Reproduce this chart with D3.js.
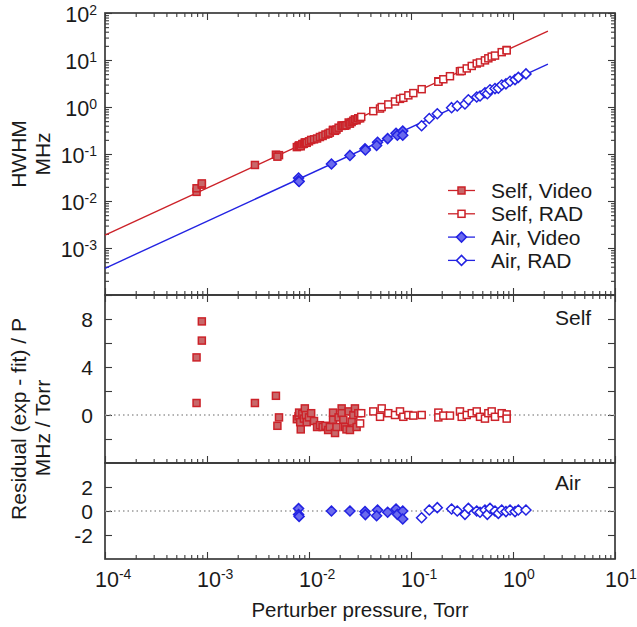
<!DOCTYPE html>
<html>
<head>
<meta charset="utf-8">
<script src="https://cdn.jsdelivr.net/npm/d3@7"></script>
<style>
  body { margin: 0; background: #fff; }
  text { font-family: "Liberation Sans", Arial, sans-serif; fill: #1a1a1a; }
</style>
</head>
<body>
<div id="chart"></div>
<script>
const width = 637;
const height = 627;

// pressure (Torr) and residual (MHz/Torr)
const selfVideoP = [7.9e-4, 7.9e-4, 8.9e-4, 8.9e-4, 2.95e-3, 4.74e-3, 5.08e-3, 4.9e-3,
    7.6e-3, 7.9e-3, 8.0e-3, 8.2e-3, 8.3e-3, 8.6e-3, 8.9e-3, 9.1e-3, 9.3e-3, 9.5e-3,
    1.0e-2, 1.05e-2, 1.12e-2, 1.2e-2, 1.28e-2, 1.36e-2, 1.45e-2, 1.54e-2, 1.6e-2,
    1.72e-2, 1.72e-2, 1.8e-2, 1.86e-2, 1.95e-2, 2.09e-2, 2.09e-2, 2.17e-2, 2.25e-2,
    2.33e-2, 2.45e-2, 2.52e-2, 2.62e-2, 2.72e-2, 2.82e-2, 2.93e-2, 3.04e-2];
const selfVideoR = [1.0, 4.8, 6.2, 7.8, 1.0, 1.6, -0.2, -0.9,
    -0.35, -0.1, 0.2, -0.6, -1.2, 0.1, -0.3, 0.55, 0.0, -0.6,
    -0.2, 0.15, -0.5, -1.0, -0.85, -1.0, -0.9, -1.25, -1.0,
    0.2, -0.4, -1.5, -1.0, -0.2, 0.55, 0.15, -0.4, -1.0,
    -1.2, 0.3, -1.25, -0.55, 0.0, 0.55, -1.0, 0.15];

const selfRadP = [0.0317, 0.0325, 0.0427, 0.0497, 0.0516, 0.0599, 0.0697, 0.078, 0.0841,
    0.0942, 0.1054, 0.1273, 0.1854, 0.1854, 0.2075, 0.241, 0.302, 0.314, 0.352, 0.394,
    0.441, 0.475, 0.531, 0.573, 0.618, 0.666, 0.775, 0.867, 0.867];
const selfRadR = [-0.7, 0.15, 0.3, -0.15, 0.55, 0.15, 0.0, 0.3, -0.15,
    0.0, -0.05, 0.0, 0.2, -0.2, -0.05, -0.05, 0.3, -0.15, 0.0, 0.15,
    0.3, -0.15, -0.3, 0.15, 0.3, -0.15, 0.15, 0.05, -0.3];

const airVideoP = [0.0079, 0.0079, 0.0080, 0.0166, 0.0252, 0.0354, 0.0357, 0.047, 0.046,
    0.059, 0.0713, 0.0735, 0.083, 0.083];
const airVideoR = [0.2, -0.3, -0.45, 0.0, 0.0, -0.05, -0.3, 0.08, -0.4,
    -0.1, 0.17, -0.28, 0.0, -0.67];

const airRadP = [0.127, 0.151, 0.181, 0.25, 0.284, 0.338, 0.365, 0.441, 0.475, 0.531,
    0.56, 0.595, 0.666, 0.718, 0.775, 0.853, 0.935, 1.047, 1.128, 1.34];
const airRadR = [-0.56, 0.08, 0.28, 0.17, 0.0, -0.28, 0.22, 0.0, -0.1, 0.08,
    -0.28, 0.22, 0.0, -0.2, 0.08, -0.05, 0.08, -0.05, 0.08, 0.08];

// linear fit coefficients (MHz/Torr) and the fitted range
const gammaSelf = 18.8;
const gammaAir = 3.7;
const fitRange = [1e-4, 2.2];

const legendLabels = ["Self, Video", "Self, RAD", "Air, Video", "Air, RAD"];

const red = "#cc2229", redFill = "#c8686a";
const blue = "#2323e2", blueFill = "#6a6aee";
const axisColor = "#3a3a3a";

const svg = d3.select("#chart").append("svg")
    .attr("width", width)
    .attr("height", height);

const x = d3.scaleLog().domain([1e-4, 10]).range([105, 615]);
const yTop = d3.scaleLog().domain([1e-4, 1e2]).range([295, 13]);
const ySelf = d3.scaleLinear().domain([-4, 10]).range([463, 295]);
const yAir = d3.scaleLinear().domain([-4, 4]).range([559, 463]);

const xMajor = d3.range(-4, 2).map(e => Math.pow(10, e));
const xMinor = d3.range(-4, 1).flatMap(e => d3.range(2, 10).map(k => k * Math.pow(10, e)));
const yMajor = d3.range(-4, 3).map(e => Math.pow(10, e));
const yMinor = d3.range(-4, 2).flatMap(e => d3.range(2, 10).map(k => k * Math.pow(10, e)));

function tickAxis(axisFn, scale, values, size, translate) {
    const g = svg.append("g")
        .attr("transform", translate)
        .call(axisFn(scale).tickValues(values).tickSize(size).tickFormat(""));
    g.select(".domain").remove();
    g.selectAll(".tick line").attr("stroke", axisColor).attr("stroke-width", 1.1);
    return g;
}

// x ticks on panel edges (inward)
[[d3.axisBottom, 13], [d3.axisTop, 295], [d3.axisBottom, 295], [d3.axisTop, 463], [d3.axisTop, 559]]
    .forEach(([fn, yy]) => {
        tickAxis(fn, x, xMajor, 7, `translate(0,${yy})`);
        tickAxis(fn, x, xMinor, 4, `translate(0,${yy})`);
    });

// top panel y ticks
tickAxis(d3.axisRight, yTop, yMajor, 7, "translate(105,0)");
tickAxis(d3.axisRight, yTop, yMinor, 4, "translate(105,0)");
tickAxis(d3.axisLeft, yTop, yMajor, 7, "translate(615,0)");
tickAxis(d3.axisLeft, yTop, yMinor, 4, "translate(615,0)");

// residual y ticks
tickAxis(d3.axisRight, ySelf, [-2, 0, 2, 4, 6, 8], 7, "translate(105,0)");
tickAxis(d3.axisLeft, ySelf, [-2, 0, 2, 4, 6, 8], 7, "translate(615,0)");
tickAxis(d3.axisRight, yAir, [-2, 0, 2], 7, "translate(105,0)");
tickAxis(d3.axisLeft, yAir, [-2, 0, 2], 7, "translate(615,0)");

// frames
[[yTop.range()[1], yTop.range()[0]], [295, 463], [463, 559]].forEach(([t, b]) => {
    svg.append("rect")
        .attr("x", 105).attr("y", t)
        .attr("width", 510).attr("height", b - t)
        .attr("fill", "none")
        .attr("stroke", axisColor)
        .attr("stroke-width", 1.7);
});

// tick labels
xMajor.forEach(v => {
    const t = svg.append("text")
        .attr("x", x(v) - 10)
        .attr("y", 587)
        .attr("font-size", 21.5)
        .text("10");
    t.append("tspan").attr("dy", -8).attr("font-size", 14).text(Math.round(Math.log10(v)));
});
yMajor.slice(1).forEach(v => {
    const t = svg.append("text")
        .attr("x", 97)
        .attr("y", yTop(v) + 9)
        .attr("text-anchor", "end")
        .attr("font-size", 21.5)
        .text("10");
    t.append("tspan").attr("dy", -7).attr("font-size", 14).text(Math.round(Math.log10(v)));
});
[0, 4, 8].forEach(v => {
    svg.append("text").attr("x", 93).attr("y", ySelf(v) + 7.5)
        .attr("text-anchor", "end").attr("font-size", 21).text(v);
});
[-2, 0, 2].forEach(v => {
    svg.append("text").attr("x", 93).attr("y", yAir(v) + 7.5)
        .attr("text-anchor", "end").attr("font-size", 21).text(v);
});

// axis titles
svg.append("text")
    .attr("x", 360).attr("y", 617)
    .attr("text-anchor", "middle")
    .attr("font-size", 20.5)
    .text("Perturber pressure, Torr");

function yTitle(lines, cy, xs) {
    lines.forEach((s, i) => {
        svg.append("text")
            .attr("transform", `translate(${xs[i]},${cy[i]}) rotate(-90)`)
            .attr("text-anchor", "middle")
            .attr("font-size", 21)
            .text(s);
    });
}
yTitle(["HWHM", "MHz"], [154, 154], [26, 50]);
yTitle(["Residual (exp - fit) / P", "MHz / Torr"], [419, 428], [26, 50]);

svg.append("text").attr("x", 555).attr("y", 325).attr("font-size", 21).text("Self");
svg.append("text").attr("x", 555).attr("y", 490).attr("font-size", 21).text("Air");

// zero lines
[ySelf, yAir].forEach(s => {
    svg.append("line")
        .attr("x1", 105).attr("x2", 615)
        .attr("y1", s(0)).attr("y2", s(0))
        .attr("stroke", "#9a9a9a")
        .attr("stroke-width", 1.3)
        .attr("stroke-dasharray", "1.5,3");
});

// fit lines
const line = d3.line().x(d => x(d[0])).y(d => yTop(d[1]));
[[gammaSelf, red], [gammaAir, blue]].forEach(([g, c]) => {
    svg.append("path")
        .datum(fitRange.map(p => [p, g * p]))
        .attr("d", line)
        .attr("fill", "none")
        .attr("stroke", c)
        .attr("stroke-width", 1.4);
});

const diamond = "M0,-5L5,0L0,5L-5,0Z";

function drawMarkers(g, pts, shape, stroke, fill) {
    const sel = g.selectAll(null).data(pts).enter();
    if (shape === "square") {
        sel.append("rect")
            .attr("x", d => d[0] - 3.5).attr("y", d => d[1] - 3.5)
            .attr("width", 7).attr("height", 7)
            .attr("fill", fill).attr("stroke", stroke).attr("stroke-width", 1.5);
    } else {
        sel.append("path")
            .attr("transform", d => `translate(${d[0]},${d[1]})`)
            .attr("d", diamond)
            .attr("fill", fill).attr("stroke", stroke).attr("stroke-width", 1.5);
    }
}

const series = [
    { P: selfVideoP, R: selfVideoR, gamma: gammaSelf, ry: ySelf, shape: "square", stroke: red, fill: redFill },
    { P: selfRadP, R: selfRadR, gamma: gammaSelf, ry: ySelf, shape: "square", stroke: red, fill: "#fff" },
    { P: airVideoP, R: airVideoR, gamma: gammaAir, ry: yAir, shape: "diamond", stroke: blue, fill: blueFill },
    { P: airRadP, R: airRadR, gamma: gammaAir, ry: yAir, shape: "diamond", stroke: blue, fill: "#fff" }
];

const marks = svg.append("g");
series.forEach(s => {
    // HWHM = fit + residual * P
    const top = s.P.map((p, i) => [x(p), yTop(p * (s.gamma + s.R[i]))]);
    const res = s.P.map((p, i) => [x(p), s.ry(s.R[i])]);
    drawMarkers(marks, top, s.shape, s.stroke, s.fill);
    drawMarkers(marks, res, s.shape, s.stroke, s.fill);
});

// legend
const legend = svg.append("g");
series.forEach((s, i) => {
    const cy = 190.5 + i * 23.3;
    legend.append("line")
        .attr("x1", 448).attr("x2", 475).attr("y1", cy).attr("y2", cy)
        .attr("stroke", s.stroke).attr("stroke-width", 1.3);
    drawMarkers(legend, [[461.5, cy]], s.shape, s.stroke, s.fill);
    legend.append("text")
        .attr("x", 491).attr("y", cy + 7.5)
        .attr("font-size", 21)
        .text(legendLabels[i]);
});
</script>
</body>
</html>
